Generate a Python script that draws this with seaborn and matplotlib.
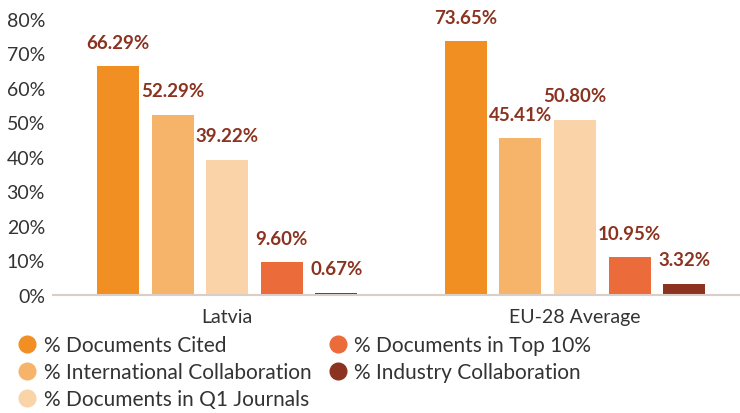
import matplotlib
matplotlib.use('Agg')
import matplotlib.pyplot as plt
from matplotlib.lines import Line2D
from matplotlib.ticker import FuncFormatter
import pandas as pd
import seaborn as sns

regions = ['Latvia', 'EU-28 Average']
metrics = ['% Documents Cited', '% International Collaboration', '% Documents in Q1 Journals',
           '% Documents in Top 10%', '% Industry Collaboration']
latvia = [66.29, 52.29, 39.22, 9.60, 0.67]
eu28 = [73.65, 45.41, 50.80, 10.95, 3.32]
colors = ['#F28F22', '#F6B36A', '#FAD3A9', '#EB6B3B', '#8B3320']

df = pd.DataFrame({
    'region': [r for r in regions for _ in metrics],
    'metric': metrics * 2,
    'value': latvia + eu28,
})

sns.set_style('white')
plt.rcParams['font.family'] = ['Lato', 'DejaVu Sans']
fig = plt.figure(figsize=(7.4, 4.14), dpi=100)
ax = fig.add_axes([0.072, 0.285, 0.94, 0.667])

sns.barplot(data=df, x='region', y='value', hue='metric', hue_order=metrics,
            palette=colors, width=0.785, gap=0.23, saturation=1, legend=False,
            linewidth=0, ax=ax)

for cont in ax.containers:
    ax.bar_label(cont, labels=[f'{v:.2f}%' for v in cont.datavalues], padding=11,
                 color='#8B3320', fontsize=13.5, fontweight='bold')

ax.set_ylim(0, 80)
ax.set_xlim(-0.5, 1.5)
ax.set_yticks(range(0, 81, 10))
ax.yaxis.set_major_formatter(FuncFormatter(lambda v, p: f'{v:.0f}%'))
ax.tick_params(axis='both', length=0, labelsize=14, colors='#333333')
ax.tick_params(axis='y', pad=6)
ax.tick_params(axis='x', pad=9)
ax.set_xlabel('')
ax.set_ylabel('')
for s in ['top', 'right', 'left']:
    ax.spines[s].set_visible(False)
ax.spines['bottom'].set_color('#D9CFC6')
ax.spines['bottom'].set_linewidth(1.5)

handles = [Line2D([0], [0], marker='o', linestyle='', markersize=12,
                  markerfacecolor=c, markeredgecolor=c) for c in colors]
fig.legend(handles, metrics, loc='lower left', bbox_to_anchor=(-0.004, -0.036), ncol=2,
           frameon=False, fontsize=15, handletextpad=0.25, columnspacing=0.7,
           labelspacing=0.33, handlelength=1.1, labelcolor='#333333')

plt.savefig('out.png', dpi=100)
